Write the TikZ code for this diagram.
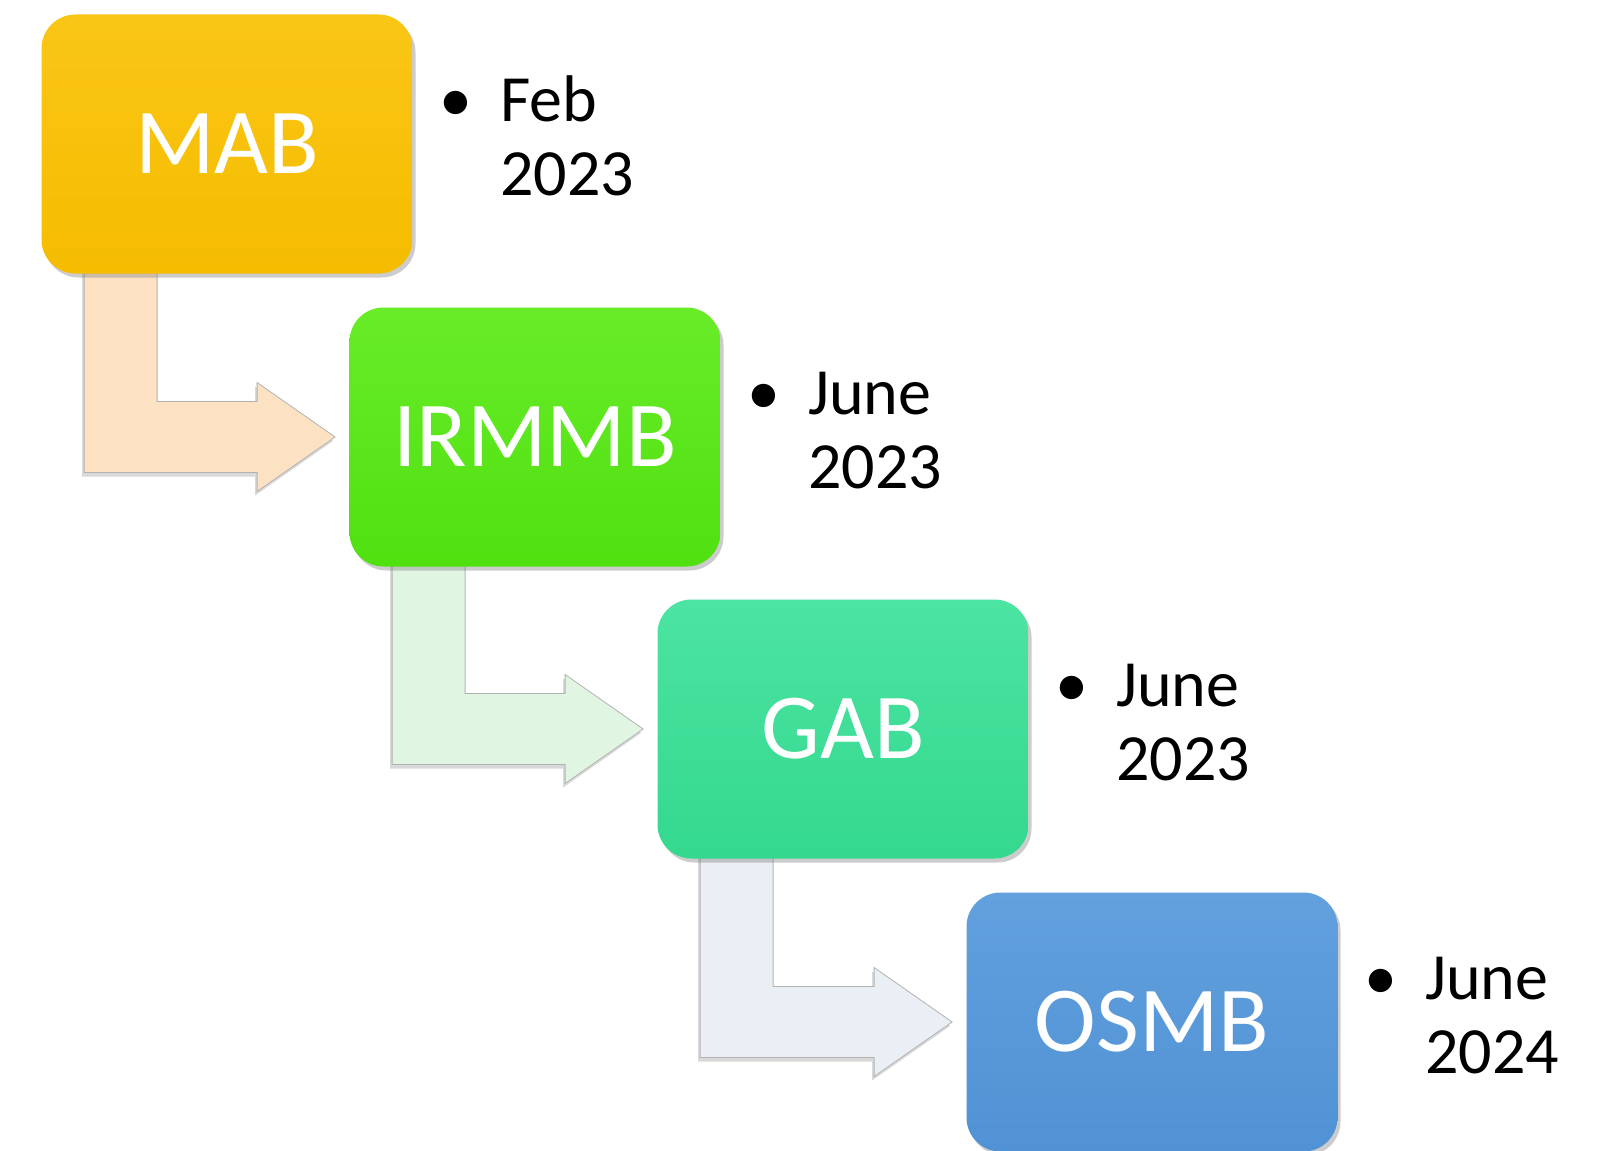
\documentclass[tikz,border=0pt]{standalone}
\usepackage{fontspec}
\setmainfont{Carlito}
\usetikzlibrary{calc,shadows,backgrounds}

\definecolor{mabtop}{RGB}{250,198,22}
\definecolor{mabbot}{RGB}{245,188,0}
\definecolor{irmmbtop}{RGB}{104,236,40}
\definecolor{irmmbbot}{RGB}{80,224,16}
\definecolor{gabtop}{RGB}{76,228,162}
\definecolor{gabbot}{RGB}{52,216,142}
\definecolor{osmbtop}{RGB}{98,160,222}
\definecolor{osmbbot}{RGB}{80,146,212}
\definecolor{peach}{RGB}{252,226,194}
\definecolor{mint}{RGB}{224,246,226}
\definecolor{frost}{RGB}{234,239,245}

\begin{document}
\begin{tikzpicture}[x=0.5pt,y=-0.5pt,
   board/.style={rounded corners=17pt,minimum width=185.5pt,minimum height=129.5pt,
      text=white,font=\fontsize{46.5}{54}\selectfont,
      drop shadow={shadow xshift=1.5pt,shadow yshift=-2pt,opacity=0.4}},
   datetext/.style={anchor=west,inner sep=0pt,font=\fontsize{33}{36.75}\selectfont},
   elbowarrow/.style={draw=black!30,line width=0.4pt,
      drop shadow={shadow xshift=-1pt,shadow yshift=-2pt,opacity=0.3}}]
   \useasboundingbox (0,0) rectangle (1599,1150);
   % the four boards
   \node[board,top color=mabtop,bottom color=mabbot] (mab) at (227,144) {MAB};
   \node[board,top color=irmmbtop,bottom color=irmmbbot] (irmmb) at (535,437) {IRMMB};
   \node[board,top color=gabtop,bottom color=gabbot] (gab) at (843,729) {GAB};
   \node[board,top color=osmbtop,bottom color=osmbbot] (osmb) at (1152,1022) {OSMB};
   % dates
   \node[datetext] (mabdate) at ($(mab.east)+(87,0)$) {\begin{tabular}{@{}l@{}}\llap{\makebox[44pt][c]{•}}Feb\\2023\end{tabular}};
   \node[datetext] (irmmbdate) at ($(irmmb.east)+(87,0)$) {\begin{tabular}{@{}l@{}}\llap{\makebox[44pt][c]{•}}June\\2023\end{tabular}};
   \node[datetext] (gabdate) at ($(gab.east)+(87,0)$) {\begin{tabular}{@{}l@{}}\llap{\makebox[44pt][c]{•}}June\\2023\end{tabular}};
   \node[datetext] (osmbdate) at ($(osmb.east)+(87,0)$) {\begin{tabular}{@{}l@{}}\llap{\makebox[44pt][c]{•}}June\\2024\end{tabular}};
   % bent arrows behind the boards
   \begin{scope}[on background layer]
   \coordinate (a1) at ($(mab.south west)+(43,-10)$);
   \coordinate (t1) at ($(irmmb.west)+(-14,0)$);
   \draw[elbowarrow,fill=peach] (a1) -- ++(73,0) -- ($(a1 |- t1)+(73,-35.5)$) -- ($(t1)+(-78,-35.5)$) -- ($(t1)+(-78,-54.5)$) -- (t1) -- ($(t1)+(-78,54.5)$) -- ($(t1)+(-78,35.5)$) -- ($(a1 |- t1)+(0,35.5)$) -- cycle;
   \coordinate (a2) at ($(irmmb.south west)+(43,-10)$);
   \coordinate (t2) at ($(gab.west)+(-14,0)$);
   \draw[elbowarrow,fill=mint] (a2) -- ++(73,0) -- ($(a2 |- t2)+(73,-35.5)$) -- ($(t2)+(-78,-35.5)$) -- ($(t2)+(-78,-54.5)$) -- (t2) -- ($(t2)+(-78,54.5)$) -- ($(t2)+(-78,35.5)$) -- ($(a2 |- t2)+(0,35.5)$) -- cycle;
   \coordinate (a3) at ($(gab.south west)+(43,-10)$);
   \coordinate (t3) at ($(osmb.west)+(-14,0)$);
   \draw[elbowarrow,fill=frost] (a3) -- ++(73,0) -- ($(a3 |- t3)+(73,-35.5)$) -- ($(t3)+(-78,-35.5)$) -- ($(t3)+(-78,-54.5)$) -- (t3) -- ($(t3)+(-78,54.5)$) -- ($(t3)+(-78,35.5)$) -- ($(a3 |- t3)+(0,35.5)$) -- cycle;
   \end{scope}
\end{tikzpicture}
\end{document}
